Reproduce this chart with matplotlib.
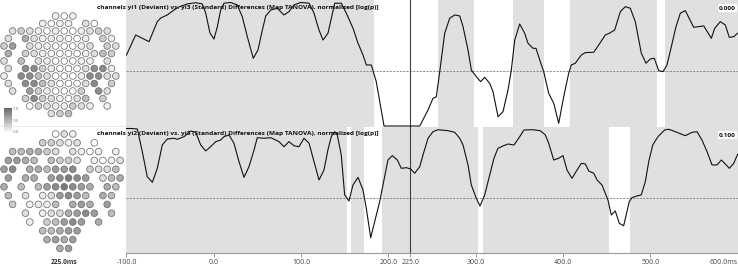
import numpy as np
import matplotlib.pyplot as plt
from matplotlib.colors import LinearSegmentedColormap

# time (ms) and normalized log(p), comparison yi1 vs yi3
t1 = [-100, -89.5, -74.2, -64.7, -60.8, -53.3, -45.6, -39.9, -30.4, -20.7, -13.2, -9.3, -4.4, 0.2, 4.0,
      7.9, 11.7, 19.4, 26.9, 32.6, 38.4, 45.2, 50.6, 55.6, 59.5, 65.2, 72.7, 80.4, 86.1, 91.9, 99.5,
      109.1, 114.8, 120.5, 125.1, 130.8, 138.5, 146, 151.8, 159.5, 165.2, 170.9, 174.7, 180.4, 186.1,
      195, 235.9, 245.4, 251.1, 254.9, 258.8, 264.5, 270.2, 276, 281.7, 285.5, 291.2, 295, 300.7,
      305.7, 310.3, 316, 319.8, 325.6, 331.3, 337, 340.8, 344.7, 350.4, 356.1, 359.9, 365.6, 369.1,
      374, 377.9, 383.6, 389.4, 395.1, 400.8, 406.5, 409.5, 414.1, 421, 425.6, 435.2, 440.9, 448.5,
      453.1, 459.2, 465.7, 471.4, 477.1, 482.8, 489.7, 495.1, 500, 504.6, 509.6, 514.6, 519.1, 524.1,
      529.4, 534.4, 540.1, 549.7, 561.2, 569.9, 573.8, 580.2, 585.9, 590.5, 595.6, 600]
v1 = [0.575, 0.737, 0.683, 0.845, 0.874, 0.899, 0.939, 0.964, 0.988, 0.998, 0.988, 0.915, 0.753, 0.704, 0.802,
      0.939, 0.994, 1.0, 0.980, 0.885, 0.723, 0.548, 0.615, 0.777, 0.891, 0.939, 0.953, 0.899, 0.926, 0.980, 1.0,
      0.994, 0.913, 0.777, 0.696, 0.751, 0.994, 0.994, 0.913, 0.791, 0.670, 0.575, 0.494, 0.494, 0.359,
      0.0, 0.0, 0.130, 0.224, 0.237, 0.440, 0.751, 0.872, 0.899, 0.891, 0.804, 0.615, 0.453, 0.399,
      0.359, 0.394, 0.346, 0.278, 0.075, 0.116, 0.291, 0.453, 0.696, 0.826, 0.751, 0.670, 0.629, 0.629,
      0.521, 0.440, 0.265, 0.184, 0.022, 0.237, 0.427, 0.494, 0.508, 0.575, 0.594, 0.597, 0.656, 0.737,
      0.751, 0.777, 0.926, 0.966, 0.953, 0.845, 0.589, 0.508, 0.543, 0.548, 0.448, 0.440, 0.494, 0.642,
      0.804, 0.913, 0.934, 0.799, 0.810, 0.710, 0.791, 0.845, 0.818, 0.718, 0.723, 0.751]

# comparison yi2 vs yi3
t2 = [-100, -95.2, -87.6, -81.9, -76.2, -70.4, -64.7, -59, -53.3, -45.6, -41.8, -34.1, -26.5, -20.7, -15,
      -9.3, -3.6, 2.2, 7.9, 11.7, 17.4, 23.1, 28.9, 34.6, 40.3, 46.1, 49.8, 57.5, 65.2, 70.9, 74.7,
      80.4, 86.1, 91.9, 97.6, 103.3, 109.1, 114.8, 120.5, 126.2, 130.8, 134.6, 138.5, 141.5, 146,
      149.9, 154.8, 159.4, 165.2, 170.9, 174.7, 179.7, 184.3, 190, 195.7, 199.5, 204.5, 210.2, 214.8,
      220.5, 225.6, 230.1, 235.9, 239.6, 245.4, 251.1, 256.8, 268.3, 276, 281.7, 285.5, 291.2, 295,
      300.7, 304.9, 310.3, 316, 320.9, 325.5, 331.3, 337, 343.9, 350.4, 355.3, 365.6, 374, 379.8,
      383.6, 389.4, 395.1, 400, 404.6, 410.3, 416.1, 421, 425.6, 429.5, 435.2, 439, 444.7, 448.5,
      451.5, 455.3, 459.9, 464.5, 469.5, 473.3, 475.9, 479, 484.7, 489.6, 494.3, 498.2, 502.8, 508.8,
      516.5, 521.1, 530.6, 540.1, 547.8, 553.5, 559.2, 565, 570.7, 576.4, 581.4, 585.2, 590.5, 595.6, 600]
v2 = [1.0, 1.0, 0.996, 0.813, 0.611, 0.566, 0.679, 0.867, 0.915, 0.921, 0.913, 0.934, 0.980, 0.969, 0.867,
      0.819, 0.853, 0.894, 0.907, 0.934, 0.948, 0.881, 0.732, 0.606, 0.692, 0.827, 0.926, 0.921, 0.926, 0.907, 0.894,
      0.853, 0.894, 0.861, 0.853, 0.921, 0.881, 0.732, 0.585, 0.665, 0.830, 0.934, 0.974, 0.948, 0.786,
      0.464, 0.415, 0.544, 0.606, 0.504, 0.356, 0.119, 0.248, 0.410, 0.611, 0.746, 0.781, 0.746, 0.679,
      0.684, 0.673, 0.639, 0.692, 0.786, 0.921, 0.974, 0.990, 0.982, 0.969, 0.921, 0.867, 0.706, 0.544,
      0.437, 0.375, 0.464, 0.625, 0.760, 0.840, 0.859, 0.875, 0.867, 0.934, 0.988, 0.990, 0.982, 0.948,
      0.881, 0.746, 0.760, 0.781, 0.665, 0.598, 0.665, 0.719, 0.714, 0.657, 0.639, 0.585, 0.544, 0.477,
      0.423, 0.302, 0.335, 0.235, 0.216, 0.329, 0.410, 0.442, 0.456, 0.464, 0.571, 0.732, 0.867, 0.934,
      0.988, 0.994, 0.969, 0.942, 0.969, 0.974, 0.907, 0.813, 0.706, 0.706, 0.746, 0.719, 0.679, 0.719, 0.792]

# significant periods (grey)
sig1 = [(-100, 183), (257, 297.5), (343, 377.7), (407.5, 508), (517.4, 600)]
sig2 = [(-100, 153), (157.7, 172.6), (193.2, 302.9), (307.8, 452.9), (477.3, 600)]
threshold = 0.443
cursor = 225

ticks = [-100, 0, 100, 200, 225, 300, 400, 500, 600]
tick_labels = ['-100.0', '0.0', '100.0', '200.0', '225.0', '300.0', '400.0', '500.0', '600.0ms']
titles = ['channels yi1 (Deviant) vs. yi3 (Standard) Differences (Map TANOVA), normalized [log(p)]',
          'channels yi2 (Deviant) vs. yi3 (Standard) Differences (Map TANOVA), normalized [log(p)]']
corner = ['0.000', '0.100']
map_time = '225.0ms'

# electrode grey levels (0 = white .. 9 = dark), staggered grid rows
top_map = [
    "      101     ",
    "    1011 20   ",
    " 232101001232 ",
    "2 52111001 31 ",
    "36 21100012 32",
    "5 32100001243 ",
    "2 4 2100011 2 ",
    "2 77310002771 ",
    "1 774200017722",
    "2 774200027 3 ",
    " 2 6310003 72 ",
    "  37321024 3  ",
    "   03211321 1 ",
    "     234      ",
]
bottom_map = [
    "      021     ",
    "    33212 0   ",
    " 445532 2101 1",
    "6654 4332 1012",
    "67 554667 3224",
    "6 55 67876 245",
    "5 4 4678765 54",
    "4 2 126764 54 ",
    " 3 1114 565 6 ",
    "  2 1225676 4 ",
    "   1 34676 5  ",
    "    44566     ",
    "     5656     ",
    "      56      ",
]

W, H = 738, 266
fig = plt.figure(figsize=(W / 100, H / 100), dpi=100)
fig.patch.set_facecolor('white')

grey_cmap = LinearSegmentedColormap.from_list('gr', ['#ffffff', '#6a6a6a'])
xl = (-100.57, 600.46)


def panel(y0, y1, t, v, sig, ylim, title, label, bottom_axis):
    ax = fig.add_axes([126 / W, 1 - y1 / H, (W - 126) / W, (y1 - y0) / H])
    ax.set_xlim(*xl)
    ax.set_ylim(*ylim)
    for a, b in sig:
        ax.axvspan(a, b, color='#e0e0e0', lw=0, zorder=0)
    ax.axhline(threshold, color='#7a7a7a', lw=0.6, ls=(0, (2.5, 1.5)), zorder=1)
    ax.axvline(cursor, color='#404040', lw=0.8, zorder=2)
    ax.plot(t, v, color='#111111', lw=0.8, zorder=3)
    for s in ['top', 'right', 'left']:
        ax.spines[s].set_visible(False)
    ax.set_yticks([])
    if bottom_axis:
        ax.spines['bottom'].set_color('#9a9a9a')
        ax.spines['bottom'].set_linewidth(0.8)
        ax.set_xticks(ticks)
        ax.set_xticklabels(tick_labels)
        ax.tick_params(axis='x', length=3, width=0.7, color='#9a9a9a', pad=1.5,
                       labelsize=5.0, labelcolor='#444444')
        for lab in ax.get_xticklabels():
            lab.set_fontfamily('Open Sans')
        ax.get_xticklabels()[-1].set_horizontalalignment('right')
        ax.get_xticklabels()[-1].set_x(600.4)
    else:
        ax.spines['bottom'].set_visible(False)
        ax.set_xticks([])
    fig.text(97 / W, 1 - (y0 + 7) / H, title, fontsize=4.65, fontweight='bold',
             family='Open Sans', va='center', ha='left', color='#111111')
    fig.text(736 / W, 1 - (y0 + 8) / H, label, fontsize=4.65, fontweight='bold',
             family='Open Sans', va='center', ha='right', color='#111111',
             bbox=dict(facecolor='white', edgecolor='none', pad=0.8))
    return ax


panel(0, 127, t1, v1, sig1, (-0.008, 1.02), titles[0], corner[0], False)
panel(127, 253, t2, v2, sig2, (-0.004, 1.012), titles[1], corner[1], True)

# topographic maps
mx = fig.add_axes([0, 0, 126 / W, 1])
mx.set_xlim(0, 126)
mx.set_ylim(H, 0)
mx.axis('off')


def topo(grid, ytop, dy):
    xs, ys, cs = [], [], []
    for r, row in enumerate(grid):
        for c, ch in enumerate(row):
            if ch == ' ':
                continue
            xs.append(4 + c * 8.6 + (4.3 if r % 2 else 0))
            ys.append(ytop + r * dy)
            cs.append(int(ch) / 9)
    mx.scatter(xs, ys, c=cs, cmap=grey_cmap, vmin=0, vmax=1, s=23,
               edgecolors='#6e6e6e', linewidths=0.55, zorder=3)


topo(top_map, 16, 7.5)
topo(bottom_map, 134, 8.8)

grad = np.linspace(1, 0, 50).reshape(-1, 1)
mx.imshow(grad, cmap=grey_cmap, extent=(4, 11.5, 133, 108), aspect='auto', zorder=2)
mx.plot([0, 126], [125.5, 125.5], color='#e6e6e6', lw=0.6, zorder=1)
for val, yy in [('1.0', 109), ('0.5', 121), ('0.0', 132)]:
    mx.text(12.5, yy, val, fontsize=3.2, color='#777777', va='center', ha='left', family='Open Sans')
mx.text(64, 262, map_time, fontsize=4.8, color='#333333', va='center', ha='center',
        family='Open Sans', fontweight='bold')

fig.savefig('out.png', dpi=100, facecolor='white')
